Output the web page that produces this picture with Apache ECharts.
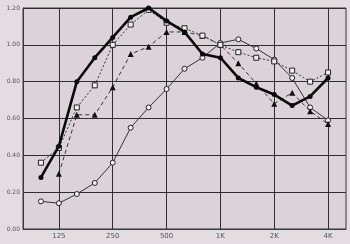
<!DOCTYPE html>
<html><head><meta charset="utf-8">
<script src="https://cdn.jsdelivr.net/npm/echarts@6/dist/echarts.min.js"></script>
<style>html,body{margin:0;padding:0;background:#e3dce1;}#c{width:350px;height:244px;}</style>
</head><body><div id="c"></div>
<script>
var categories = ['80','100','125','160','200','250','315','400','500','630','800','1K','1.25K','1.6K','2K','2.5K','3.15K','4K','5K'];
var tickLabels = ['125','250','500','1K','2K','4K'];
var yTicks = [0, 0.2, 0.4, 0.6, 0.8, 1.0, 1.2];
var seriesBlack = [null,0.28,0.45,0.80,0.93,1.04,1.15,1.20,1.13,1.07,0.95,0.93,0.82,0.77,0.73,0.67,0.72,0.82,null];
var seriesSquare = [null,0.36,0.44,0.66,0.78,1.00,1.11,1.19,1.12,1.09,1.05,1.00,0.96,0.93,0.91,0.86,0.80,0.85,null];
var seriesTriangle = [null,null,0.30,0.62,0.62,0.77,0.95,0.99,1.07,1.07,1.05,1.00,0.90,0.79,0.68,0.74,0.64,0.57,null];
var seriesCircle = [null,0.15,0.14,0.19,0.25,0.36,0.55,0.66,0.76,0.87,0.93,1.01,1.03,0.98,0.92,0.82,0.66,0.59,null];

var showIdx = function(i){ return tickLabels.indexOf(categories[i]) >= 0; };
var chart = echarts.init(document.getElementById('c'));
chart.setOption({
  animation:false,
  backgroundColor:'#e3dce1',
  grid:{left:23,right:4,top:8,bottom:15,show:true,backgroundColor:'#dcd2d9',borderColor:'#3a3a3a',borderWidth:1},
  xAxis:{type:'category',data:categories,boundaryGap:false,
    axisLine:{lineStyle:{color:'#3a3a3a',width:1}},
    axisTick:{show:false},
    axisLabel:{interval:function(i){return showIdx(i);},fontSize:7,color:'#555',margin:4,fontFamily:'DejaVu Sans'},
    splitLine:{show:true,interval:function(i){return showIdx(i);},lineStyle:{color:'#2e2e2e',width:1}}
  },
  yAxis:{type:'value',min:0,max:1.2,interval:0.2,
    axisLine:{show:true,lineStyle:{color:'#3a3a3a'}},
    axisTick:{show:false},
    axisLabel:{fontSize:6,color:'#555',margin:3,fontFamily:'DejaVu Sans',formatter:function(v){return v.toFixed(2);}},
    splitLine:{show:true,lineStyle:{color:'#2e2e2e',width:1}}
  },
  series:[
    {type:'line',data:seriesCircle,symbol:'circle',symbolSize:5,showAllSymbol:true,
      lineStyle:{color:'#333',width:1},itemStyle:{color:'#f4f0f2',borderColor:'#222',borderWidth:1},z:2},
    {type:'line',data:seriesTriangle,symbol:'triangle',symbolSize:6,showAllSymbol:true,
      lineStyle:{color:'#333',width:1,type:[4,3]},itemStyle:{color:'#111',borderColor:'#111',borderWidth:0},z:3},
    {type:'line',data:seriesSquare,symbol:'rect',symbolSize:5,showAllSymbol:true,
      lineStyle:{color:'#333',width:1,type:[2,2]},itemStyle:{color:'#f4f0f2',borderColor:'#222',borderWidth:1},z:4},
    {type:'line',data:seriesBlack,symbol:'circle',symbolSize:5,showAllSymbol:true,
      lineStyle:{color:'#0a0a0a',width:2.6},itemStyle:{color:'#0a0a0a'},z:5}
  ]
});
</script></body></html>
